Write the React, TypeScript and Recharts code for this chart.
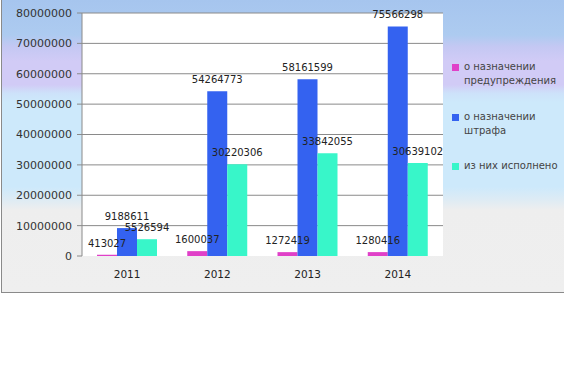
import React from 'react';
import { BarChart, Bar, XAxis, YAxis, CartesianGrid, LabelList } from 'recharts';

// годы и значения серий
const years = ['2011', '2012', '2013', '2014'];
const warnings = [413027, 1600037, 1272419, 1280416];
const fines = [9188611, 54264773, 58161599, 75566298];
const executed = [5526594, 30220306, 33842055, 30639102];
const yTicks = [0, 10000000, 20000000, 30000000, 40000000, 50000000, 60000000, 70000000, 80000000];

const series = [
  { key: 'warn', name: 'о назначении предупреждения', color: '#e040c8' },
  { key: 'fine', name: 'о назначении штрафа', color: '#3462f0' },
  { key: 'exec', name: 'из них исполнено', color: '#38f6c9' },
];

const data = years.map((y, i) => ({
  year: y,
  warn: warnings[i],
  fine: fines[i],
  exec: executed[i],
}));

const font = '"DejaVu Sans", Verdana, sans-serif';

const YearTick = (props: any) => {
  const { x, y, payload } = props;
  return (
    <text x={x} y={y + 14} textAnchor="middle" fontSize={10.5} fontFamily={font} fill="#222">
      {payload.value}
    </text>
  );
};

const legendTops = [60, 110, 159];

const App: React.FC = () => {
  return (
    <div style={{ position: 'absolute', left: 0, top: 0, width: 564, height: 384, background: '#fff', overflow: 'hidden' }}>
      <div
        style={{
          position: 'absolute',
          left: 1,
          top: -1,
          width: 580,
          height: 292,
          border: '1px solid #8a8a8a',
          background:
            'linear-gradient(to bottom, #a6c5ee 0%, #adcbf0 12%, #c4c8f3 16%, #d1cbf6 21%, #d1cbf6 29%, #cde2fa 32%, #cde9fb 35%, #cde9fb 64%, #dcebf5 68%, #eeeeee 72%, #efefef 100%)',
        }}
      />
      <div style={{ position: 'absolute', left: 0, top: 0 }}>
        <BarChart
          width={564}
          height={293}
          data={data}
          margin={{ top: 13, right: 121, left: 0, bottom: 7 }}
          barCategoryGap={15}
          barGap={0}
        >
          <CartesianGrid
            vertical={false}
            stroke="#8a8a8a"
            fill="#ffffff"
            fillOpacity={1}
            horizontalValues={yTicks.slice(1)}
          />
          <XAxis
            dataKey="year"
            height={30}
            axisLine={false}
            tickLine={false}
            tick={<YearTick />}
            interval={0}
          />
          <YAxis
            width={82}
            domain={[0, 80000000]}
            ticks={yTicks}
            interval={0}
            tickFormatter={(v: number) => String(v)}
            axisLine={{ stroke: '#8a8a8a' }}
            tickLine={{ stroke: '#8a8a8a' }}
            tickSize={5}
            tickMargin={5}
            tick={{ fontSize: 11, fontFamily: font, fill: '#333' }}
          />
          {series.map((s) => (
            <Bar key={s.key} dataKey={s.key} name={s.name} fill={s.color} isAnimationActive={false}>
              <LabelList dataKey={s.key} position="top" offset={8} fontSize={10} fontFamily={font} fill="#222" />
            </Bar>
          ))}
        </BarChart>
      </div>
      {series.map((s, i) => (
        <div
          key={s.key}
          style={{
            position: 'absolute',
            left: 452,
            top: legendTops[i],
            display: 'flex',
            lineHeight: '14px',
            fontFamily: font,
            fontSize: 10,
            color: '#444',
          }}
        >
          <span style={{ width: 7, height: 7, background: s.color, marginTop: 4, marginRight: 5, flex: 'none' }} />
          <span style={{ width: 104 }}>{s.name}</span>
        </div>
      ))}
    </div>
  );
};

export default App;
